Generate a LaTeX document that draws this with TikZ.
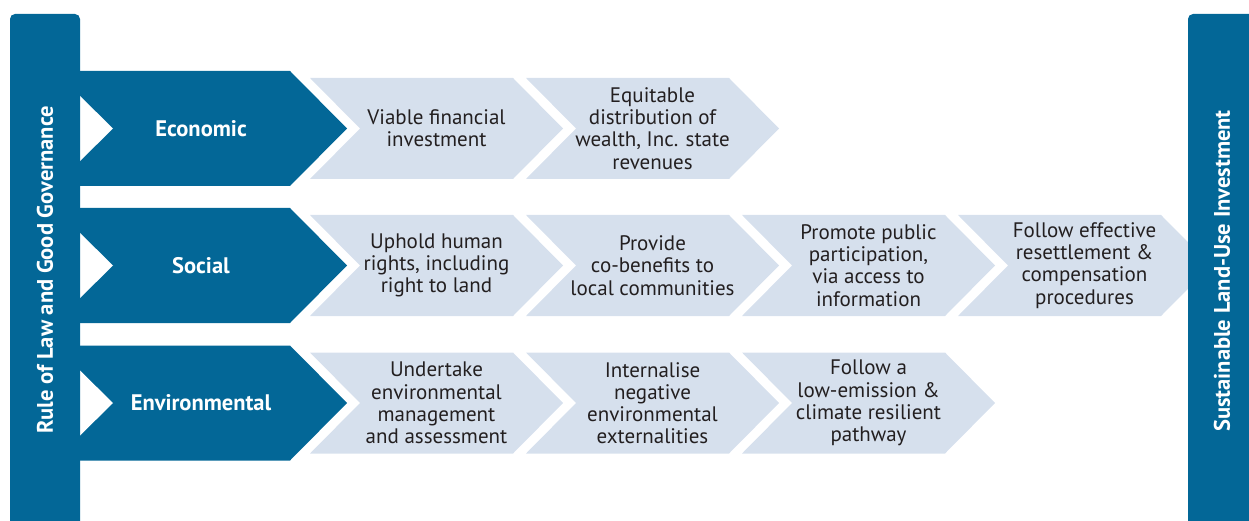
\documentclass[tikz,border=0pt]{standalone}
\usepackage{fontspec}
\setmainfont{PT Sans}
\definecolor{govblue}{RGB}{3,103,151}
\definecolor{steplight}{RGB}{214,224,237}
\definecolor{stepink}{RGB}{35,31,32}

\begin{document}
\begin{tikzpicture}[x=1pt,y=-1pt]
    \tikzstyle{barfill} = [fill=govblue,rounded corners=5pt]
    \tikzstyle{pillarfill} = [fill=govblue]
    \tikzstyle{notchfill} = [fill=white]
    \tikzstyle{stepfill} = [fill=steplight]
    \tikzstyle{pillarlabel} = [text=white,font=\bfseries\fontsize{22.5}{24}\selectfont]
    \tikzstyle{steplabel} = [text=stepink,align=center,inner sep=0pt,
                             font=\fontsize{21}{22.2}\selectfont]
    \tikzstyle{barlabel} = [text=white,rotate=90,font=\bfseries\fontsize{22.5}{24}\selectfont]

    \clip (0,0) rectangle (1249,521);

    % Economic row
    \fill[pillarfill](60,71)--(290,71)--(347,128.5)--(290,186)--(60,186)--cycle;
    \fill[notchfill](80,96)--(113,128.5)--(80,161)--cycle;
    \fill[stepfill](310,78)--++(203,0)--++(50,50.5)--++(-50,50.5)
                   --++(-203,0)--++(50,-50.5)--cycle;
    \fill[stepfill](526,78)--++(203,0)--++(50,50.5)--++(-50,50.5)
                   --++(-203,0)--++(50,-50.5)--cycle;
    \node[pillarlabel] (econ) at (201,128.5) {Economic};
    \node[steplabel] (econA) at (436.5,128.5) {Viable financial\\investment};
    \node[steplabel] (econB) at (652.5,128.5) {Equitable\\distribution of\\wealth, Inc. state\\revenues};

    % Social row
    \fill[pillarfill](60,208)--(290,208)--(347,265.5)--(290,323)--(60,323)--cycle;
    \fill[notchfill](80,233)--(113,265.5)--(80,298)--cycle;
    \fill[stepfill](310,215)--++(203,0)--++(50,50.5)--++(-50,50.5)
                   --++(-203,0)--++(50,-50.5)--cycle;
    \fill[stepfill](526,215)--++(203,0)--++(50,50.5)--++(-50,50.5)
                   --++(-203,0)--++(50,-50.5)--cycle;
    \fill[stepfill](742,215)--++(203,0)--++(50,50.5)--++(-50,50.5)
                   --++(-203,0)--++(50,-50.5)--cycle;
    \fill[stepfill](958,215)--++(203,0)--++(50,50.5)--++(-50,50.5)
                   --++(-203,0)--++(50,-50.5)--cycle;
    \node[pillarlabel] (social) at (201,265.5) {Social};
    \node[steplabel] (socA) at (436.5,265.5) {Uphold human\\rights, including\\right to land};
    \node[steplabel] (socB) at (652.5,265.5) {Provide\\co-benefits to\\local communities};
    \node[steplabel] (socC) at (868.5,265.5) {Promote public\\participation,\\via access to\\information};
    \node[steplabel] (socD) at (1084.5,265.5) {Follow effective\\resettlement \&\\compensation\\procedures};

    % Environmental row
    \fill[pillarfill](60,345.5)--(290,345.5)--(347,403)--(290,460.5)--(60,460.5)--cycle;
    \fill[notchfill](80,370.5)--(113,403)--(80,435.5)--cycle;
    \fill[stepfill](310,352.5)--++(203,0)--++(50,50.5)--++(-50,50.5)
                   --++(-203,0)--++(50,-50.5)--cycle;
    \fill[stepfill](526,352.5)--++(203,0)--++(50,50.5)--++(-50,50.5)
                   --++(-203,0)--++(50,-50.5)--cycle;
    \fill[stepfill](742,352.5)--++(203,0)--++(50,50.5)--++(-50,50.5)
                   --++(-203,0)--++(50,-50.5)--cycle;
    \node[pillarlabel] (envir) at (201,403) {Environmental};
    \node[steplabel] (envA) at (436.5,403) {Undertake\\environmental\\management\\and assessment};
    \node[steplabel] (envB) at (652.5,403) {Internalise\\negative\\environmental\\externalities};
    \node[steplabel] (envC) at (868.5,403) {Follow a\\low-emission \&\\climate resilient\\pathway};

    % the two bars
    \fill[barfill](10,14) rectangle (80,545);
    \fill[barfill](1188,14) rectangle (1275,545);
    \node[barlabel] (law) at (45,270) {Rule of Law and Good Governance};
    \node[barlabel] (landuse) at (1222,271) {Sustainable Land-Use Investment};
\end{tikzpicture}
\end{document}
